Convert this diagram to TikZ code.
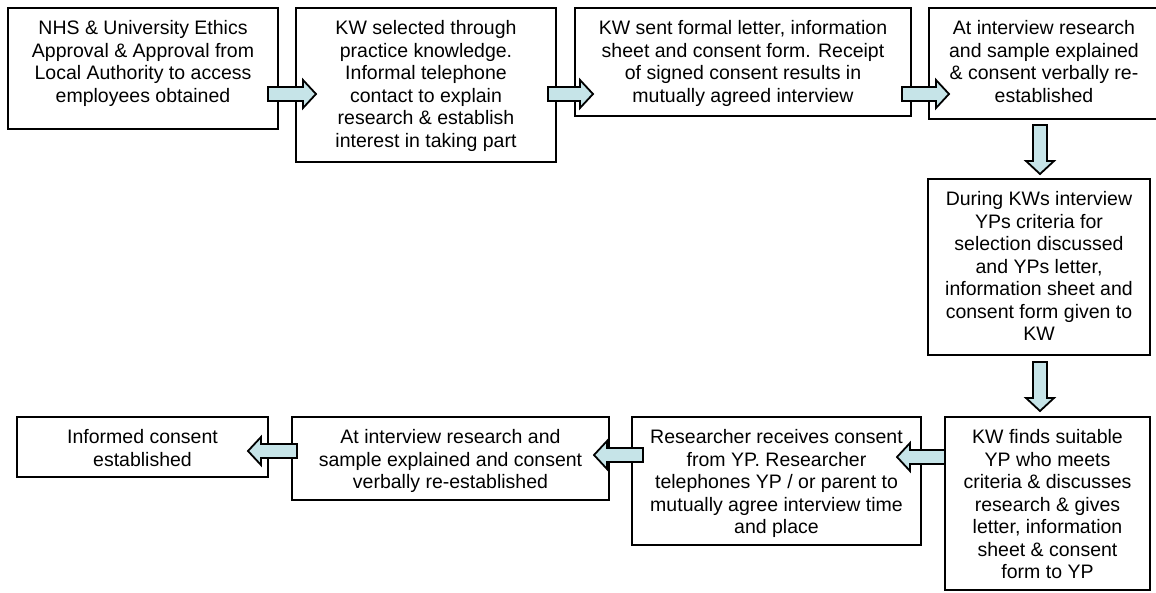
\documentclass[tikz,border=0pt]{standalone}
\usepackage{fontspec}
\setmainfont{Liberation Sans}
\usetikzlibrary{calc}
\definecolor{arrowfill}{RGB}{198,228,232}
\tikzset{
  x=1pt, y=-1pt,
  stepbox/.style={draw=black, line width=2pt, inner sep=0pt, outer sep=0pt,
    anchor=north west, fill=white, font=\fontsize{19.5}{22.5}\selectfont},
  blockarrow/.style={draw=black, line width=1.8pt, fill=arrowfill, line join=miter},
}
% box content: width, height, centred lines set from the top
\newcommand{\boxtext}[3]{\parbox[c][#2pt][t]{#1pt}{\centering\vspace*{12.5pt}#3\par}}
% outlined block arrow from #1 to #2
\newcommand{\blockarrow}[2]{%
  \coordinate (ba-s) at #1;
  \coordinate (ba-e) at #2;
  \coordinate (ba-h) at ($(ba-e)!13pt!(ba-s)$);
  \draw[blockarrow] ($(ba-s)!7pt!90:(ba-e)$) -- ($(ba-h)!7pt!-90:(ba-s)$)
    -- ($(ba-h)!14pt!-90:(ba-s)$) -- (ba-e) -- ($(ba-h)!14pt!90:(ba-s)$)
    -- ($(ba-h)!7pt!90:(ba-s)$) -- ($(ba-s)!7pt!-90:(ba-e)$) -- cycle;
}
\begin{document}
\begin{tikzpicture}
\useasboundingbox (0,0) rectangle (1156,592);
\fill[white] (0,0) rectangle (1156,592);

% top row
\node[stepbox] (b1) at (8,8) {\boxtext{270}{121}{NHS \& University Ethics\\Approval \& Approval from\\Local Authority to access\\employees obtained}};
\node[stepbox] (b2) at (296,8) {\boxtext{260}{154}{KW selected through\\practice knowledge.\\Informal telephone\\contact to explain\\research \& establish\\interest in taking part}};
\node[stepbox] (b3) at (575,8) {\boxtext{336}{108}{KW sent formal letter, information\\sheet and consent form. Receipt\\of signed consent results in\\mutually agreed interview}};
\node[stepbox] (b4) at (929,8) {\boxtext{230}{111}{At interview research\\and sample explained\\\& consent verbally re-\\established}};

% right column
\node[stepbox] (b5) at (928,179) {\boxtext{222}{176}{During KWs interview\\YPs criteria for\\selection discussed\\and YPs letter,\\information sheet and\\consent form given to\\KW}};
\node[stepbox] (b6) at (945,417) {\boxtext{205}{173}{KW finds suitable\\YP who meets\\criteria \& discusses\\research \& gives\\letter, information\\sheet \& consent\\form to YP}};

% bottom row
\node[stepbox] (b7) at (632,417) {\boxtext{289}{128}{Researcher receives consent\\from YP. Researcher\\telephones YP / or parent to\\mutually agree interview time\\and place}};
\node[stepbox] (b8) at (292,417) {\boxtext{317}{83}{At interview research and\\sample explained and consent\\verbally re-established}};
\node[stepbox] (b9) at (17,417) {\boxtext{251}{60}{Informed consent\\established}};

% flow arrows
\blockarrow{($(b1.north east)+(-10,86)$)}{($(b2.north west)+(20,86)$)}
\blockarrow{($(b2.north east)+(-8,86)$)}{($(b3.north west)+(18,86)$)}
\blockarrow{($(b3.north east)+(-9,86)$)}{($(b4.north west)+(20,86)$)}
\blockarrow{($(b4.south west)+(111,6)$)}{($(b5.north west)+(112,-5)$)}
\blockarrow{($(b5.south west)+(112,7)$)}{($(b6.north west)+(95,-6)$)}
\blockarrow{($(b6.north west)+(0,40)$)}{($(b7.north east)+(-24,40)$)}
\blockarrow{($(b7.north west)+(11,38)$)}{($(b8.north east)+(-15,38)$)}
\blockarrow{($(b8.north west)+(5,34)$)}{($(b9.north east)+(-20,34)$)}
\end{tikzpicture}
\end{document}
